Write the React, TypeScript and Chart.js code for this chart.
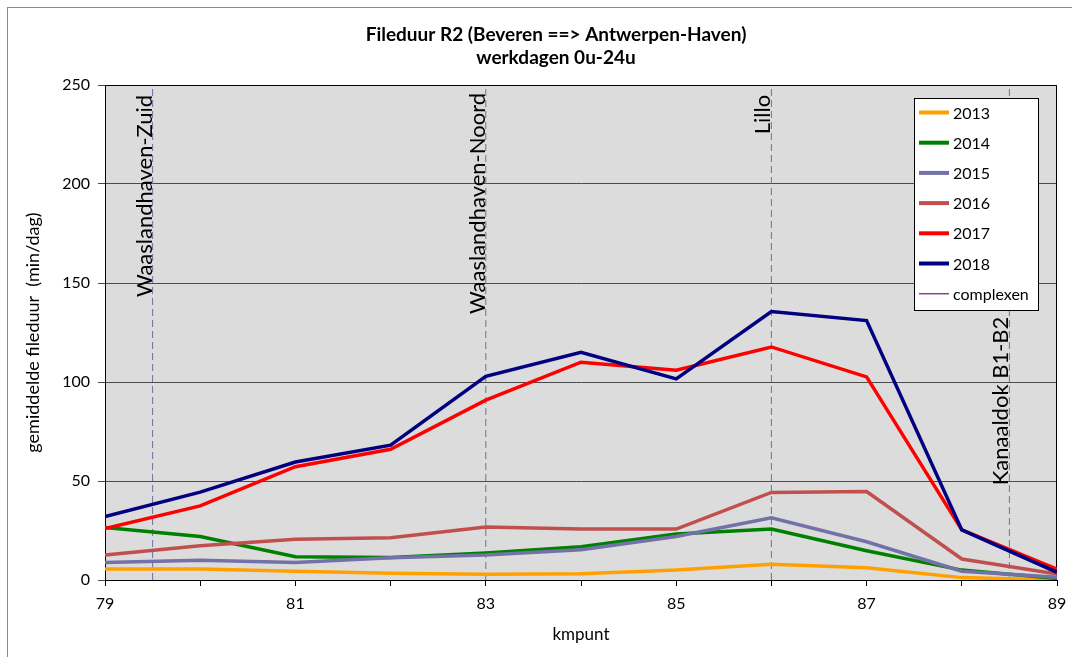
import React, { useEffect, useRef } from 'react';
import { Chart, registerables } from 'chart.js';

Chart.register(...registerables);

// ---- data ----
const kmpunten = [79, 80, 81, 82, 83, 84, 85, 86, 87, 88, 89];
const jaren = ['2013', '2014', '2015', '2016', '2017', '2018'];
const v2013 = [5.5, 5.5, 4.4, 3.4, 2.9, 3.2, 5, 8, 6.2, 1.2, 0];
const v2014 = [26.5, 22, 11.7, 11.4, 13.6, 16.8, 23.2, 25.7, 14.8, 5, 0.8];
const v2015 = [8.9, 10, 8.9, 11.2, 12.6, 15.3, 22, 31.4, 19.3, 4.4, 1.4];
const v2016 = [12.6, 17.3, 20.6, 21.3, 26.8, 25.7, 25.7, 44.2, 44.7, 10.6, 3];
const v2017 = [26, 37.4, 57.2, 66, 90.8, 110, 105.9, 117.7, 102.6, 25.3, 5.5];
const v2018 = [32, 44.4, 59.6, 68.1, 102.9, 115, 101.6, 135.6, 131, 25.3, 3.9];
const reeksen = [v2013, v2014, v2015, v2016, v2017, v2018];
const kleuren = ['#FFA000', '#008000', '#7272A8', '#C0504D', '#FF0000', '#000080'];

const complexLabel = 'complexen';
const complexNamen = ['Waaslandhaven-Zuid', 'Waaslandhaven-Noord', 'Lillo', 'Kanaaldok B1-B2'];
const complexKm = [79.5, 83, 86, 88.5];
const complexLabelTop = [245, 246, 245, 133];

const titel = ['Fileduur R2 (Beveren ==> Antwerpen-Haven)', 'werkdagen 0u-24u'];
const yTitel = 'gemiddelde fileduur  (min/dag)';
const xTitel = 'kmpunt';
const yMin = 0;
const yMax = 250;
const yStap = 50;
const xMin = 79;
const xMax = 89;

const FONT = 'Lato, "Open Sans", sans-serif';
const COMPLEX_LINE = '#6E6EA6';
const COMPLEX_LEGEND = '#8E3C96';

const bgPlugin = {
  id: 'plotBg',
  beforeDraw(chart: any) {
    const { ctx, chartArea } = chart;
    ctx.save();
    ctx.fillStyle = '#DCDCDC';
    ctx.fillRect(chartArea.left, chartArea.top, chartArea.right - chartArea.left, chartArea.bottom - chartArea.top);
    ctx.restore();
  },
  beforeDatasetsDraw(chart: any) {
    const { ctx, chartArea } = chart;
    ctx.save();
    ctx.strokeStyle = '#000';
    ctx.lineWidth = 1;
    ctx.strokeRect(Math.round(chartArea.left) + 0.5, Math.round(chartArea.top) + 0.5,
      Math.round(chartArea.right - chartArea.left) - 1, Math.round(chartArea.bottom - chartArea.top));
    ctx.restore();
  },
};

const complexTextPlugin = {
  id: 'complexText',
  afterDatasetsDraw(chart: any) {
    const { ctx } = chart;
    const xs = chart.scales.x;
    const ys = chart.scales.y;
    ctx.save();
    ctx.font = `22px ${FONT}`;
    ctx.fillStyle = '#000';
    ctx.textAlign = 'right';
    ctx.textBaseline = 'alphabetic';
    complexNamen.forEach((naam, i) => {
      const px = xs.getPixelForValue(complexKm[i]) - 1;
      const py = ys.getPixelForValue(complexLabelTop[i]);
      ctx.save();
      ctx.translate(px, py);
      ctx.rotate(-Math.PI / 2);
      ctx.fillText(naam, 0, 0);
      ctx.restore();
    });
    ctx.restore();
  },
};

const boxLegendPlugin = {
  id: 'boxLegend',
  afterDraw(chart: any) {
    const { ctx, chartArea } = chart;
    const w = 124;
    const h = 212;
    const left = chartArea.right - 143;
    const top = chartArea.top + 13;
    ctx.save();
    ctx.fillStyle = '#fff';
    ctx.fillRect(left, top, w, h);
    ctx.strokeStyle = '#000';
    ctx.lineWidth = 1;
    ctx.strokeRect(Math.round(left) + 0.5, Math.round(top) + 0.5, w, h);
    const items: { label: string; color: string; width: number }[] = [];
    const seen = new Set<string>();
    chart.data.datasets.forEach((ds: any) => {
      if (seen.has(ds.label)) return;
      seen.add(ds.label);
      items.push({
        label: ds.label,
        color: ds.legendColor || ds.borderColor,
        width: ds.label === complexLabel ? 1.5 : 4,
      });
    });
    ctx.font = `16px ${FONT}`;
    ctx.textBaseline = 'middle';
    ctx.textAlign = 'left';
    items.forEach((it, i) => {
      const y = top + 14.5 + i * 30.2;
      ctx.strokeStyle = it.color;
      ctx.lineWidth = it.width;
      ctx.setLineDash([]);
      ctx.beginPath();
      ctx.moveTo(left + 5, y);
      ctx.lineTo(left + 35, y);
      ctx.stroke();
      ctx.fillStyle = '#000';
      ctx.fillText(it.label, left + 39, y + 1);
    });
    ctx.restore();
  },
};

export default function App() {
  const ref = useRef<HTMLCanvasElement | null>(null);

  useEffect(() => {
    if (!ref.current) return;
    const reeksDatasets = jaren.map((jaar, i) => ({
      label: jaar,
      data: kmpunten.map((km, j) => ({ x: km, y: reeksen[i][j] })),
      borderColor: kleuren[i],
      backgroundColor: kleuren[i],
      borderWidth: 3.5,
      pointRadius: 0,
      tension: 0,
      order: jaren.length - i,
    }));
    const complexDatasets = complexKm.map((km) => ({
      label: complexLabel,
      data: [{ x: km, y: yMin }, { x: km, y: yMax }],
      borderColor: COMPLEX_LINE,
      legendColor: COMPLEX_LEGEND,
      borderWidth: 1,
      borderDash: [7, 4],
      pointRadius: 0,
      order: 20,
    }));

    const chart = new Chart(ref.current, {
      type: 'line',
      data: { datasets: [...reeksDatasets, ...complexDatasets] as any },
      options: {
        responsive: false,
        animation: false,
        layout: { padding: 0 },
        plugins: {
          legend: { display: false },
          tooltip: { enabled: false },
          title: {
            display: true,
            text: titel,
            color: '#000',
            font: { family: FONT, size: 19, weight: 'bold', lineHeight: '23px' },
            padding: { top: 15, bottom: 16 },
          },
        },
        scales: {
          x: {
            type: 'linear',
            min: xMin,
            max: xMax,
            ticks: {
              stepSize: 1,
              autoSkip: false,
              maxRotation: 0,
              color: '#000',
              font: { family: FONT, size: 16 },
              padding: 8,
              callback: (v: any) => (Number(v) % 2 === 1 ? String(v) : ''),
            },
            grid: { drawOnChartArea: false, drawTicks: true, tickLength: 6, color: '#000' },
            border: { display: true, color: '#000', width: 1 },
            title: {
              display: true,
              text: xTitel,
              color: '#000',
              font: { family: FONT, size: 17 },
              padding: { top: 0, bottom: 12 },
            },
            afterFit: (s: any) => { s.height = 77; },
          },
          y: {
            type: 'linear',
            min: yMin,
            max: yMax,
            ticks: {
              stepSize: yStap,
              color: '#000',
              font: { family: FONT, size: 16 },
              padding: 8,
            },
            grid: { color: '#4A4A4A', tickColor: '#4A4A4A', tickLength: 7, lineWidth: 1 },
            border: { display: true, color: '#000', width: 1 },
            title: {
              display: true,
              text: yTitel,
              color: '#000',
              font: { family: FONT, size: 18 },
              padding: { top: 14, bottom: 0 },
            },
            afterFit: (s: any) => { s.width = 97; },
          },
          yRechts: {
            type: 'linear',
            position: 'right',
            display: true,
            min: yMin,
            max: yMax,
            grid: { display: false, drawTicks: false },
            border: { display: false },
            ticks: { display: false },
            afterFit: (s: any) => { s.width = 47; },
          },
        },
      } as any,
      plugins: [bgPlugin, complexTextPlugin, boxLegendPlugin],
    });
    return () => chart.destroy();
  }, []);

  return (
    <div
      style={{
        position: 'absolute',
        left: 7,
        top: 7,
        width: 1065,
        height: 650,
        overflow: 'hidden',
        borderTop: '1px solid #8A8A8A',
        borderLeft: '1px solid #8A8A8A',
        boxSizing: 'border-box',
        background: '#fff',
      }}
    >
      <canvas ref={ref} width={1096} height={649} style={{ display: 'block' }} />
    </div>
  );
}
